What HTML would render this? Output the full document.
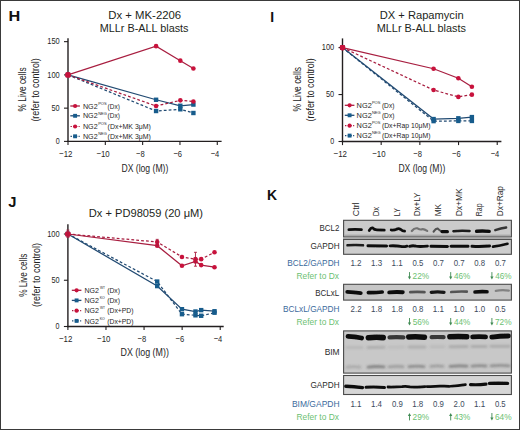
<!DOCTYPE html><html><head><meta charset="utf-8"><style>html,body{margin:0;padding:0;background:#fff}svg{display:block}text{font-family:"Liberation Sans",sans-serif}</style></head><body>
<svg width="520" height="430" viewBox="0 0 520 430">
<rect x="0" y="0" width="520" height="430" fill="#fff"/>
<text x="8.54" y="20.90" font-size="15" fill="#111" font-weight="bold" textLength="11.75" lengthAdjust="spacingAndGlyphs">H</text>
<text x="270.30" y="21.80" font-size="15.4" fill="#111" font-weight="bold" textLength="3.83" lengthAdjust="spacingAndGlyphs">I</text>
<text x="8.18" y="206.60" font-size="15" fill="#111" font-weight="bold" textLength="8.20" lengthAdjust="spacingAndGlyphs">J</text>
<text x="266.99" y="200.40" font-size="15" fill="#111" font-weight="bold" textLength="10.08" lengthAdjust="spacingAndGlyphs">K</text>
<text x="108.29" y="18.50" font-size="11.2" fill="#231f20" textLength="72.86" lengthAdjust="spacingAndGlyphs">Dx + MK-2206</text>
<text x="99.73" y="31.60" font-size="11.2" fill="#231f20" textLength="88.83" lengthAdjust="spacingAndGlyphs">MLLr B-ALL blasts</text>
<text x="379.71" y="18.50" font-size="11.2" fill="#231f20" textLength="83.93" lengthAdjust="spacingAndGlyphs">DX + Rapamycin</text>
<text x="376.73" y="31.60" font-size="11.2" fill="#231f20" textLength="89.14" lengthAdjust="spacingAndGlyphs">MLLr B-ALL blasts</text>
<text x="88.81" y="217.10" font-size="11.2" fill="#231f20" textLength="114.21" lengthAdjust="spacingAndGlyphs">Dx + PD98059 (20 μM)</text>
<line x1="68.00" y1="38.20" x2="68.00" y2="142.10" stroke="#231f20" stroke-width="1.4"/>
<line x1="67.30" y1="141.40" x2="221.60" y2="141.40" stroke="#231f20" stroke-width="1.4"/>
<line x1="64.00" y1="41.65" x2="68.00" y2="41.65" stroke="#231f20" stroke-width="1.1"/>
<text x="47.24" y="44.45" font-size="9.4" fill="#262626" textLength="12.45" lengthAdjust="spacingAndGlyphs">150</text>
<line x1="64.00" y1="74.90" x2="68.00" y2="74.90" stroke="#231f20" stroke-width="1.1"/>
<text x="47.24" y="77.70" font-size="9.4" fill="#262626" textLength="12.45" lengthAdjust="spacingAndGlyphs">100</text>
<line x1="64.00" y1="108.15" x2="68.00" y2="108.15" stroke="#231f20" stroke-width="1.1"/>
<text x="51.51" y="110.95" font-size="9.4" fill="#262626" textLength="8.17" lengthAdjust="spacingAndGlyphs">50</text>
<line x1="64.00" y1="141.40" x2="68.00" y2="141.40" stroke="#231f20" stroke-width="1.1"/>
<text x="55.72" y="144.20" font-size="9.4" fill="#262626" textLength="3.94" lengthAdjust="spacingAndGlyphs">0</text>
<line x1="68.00" y1="141.40" x2="68.00" y2="145.00" stroke="#231f20" stroke-width="1.1"/>
<text x="59.11" y="156.60" font-size="9.4" fill="#262626" textLength="13.40" lengthAdjust="spacingAndGlyphs">−12</text>
<line x1="105.32" y1="141.40" x2="105.32" y2="145.00" stroke="#231f20" stroke-width="1.1"/>
<text x="96.43" y="156.60" font-size="9.4" fill="#262626" textLength="13.28" lengthAdjust="spacingAndGlyphs">−10</text>
<line x1="142.64" y1="141.40" x2="142.64" y2="145.00" stroke="#231f20" stroke-width="1.1"/>
<text x="136.06" y="156.60" font-size="9.4" fill="#262626" textLength="8.69" lengthAdjust="spacingAndGlyphs">−8</text>
<line x1="179.96" y1="141.40" x2="179.96" y2="145.00" stroke="#231f20" stroke-width="1.1"/>
<text x="173.38" y="156.60" font-size="9.4" fill="#262626" textLength="8.69" lengthAdjust="spacingAndGlyphs">−6</text>
<line x1="217.28" y1="141.40" x2="217.28" y2="145.00" stroke="#231f20" stroke-width="1.1"/>
<text x="210.70" y="156.60" font-size="9.4" fill="#262626" textLength="8.60" lengthAdjust="spacingAndGlyphs">−4</text>
<text x="121.41" y="171.50" font-size="10.4" fill="#262626" textLength="46.95" lengthAdjust="spacingAndGlyphs">DX (log (M))</text>
<g transform="translate(26.30,111.10) rotate(-90)">
<text x="-0.29" y="0.00" font-size="10.8" fill="#222" textLength="43.98" lengthAdjust="spacingAndGlyphs">% Live cells</text>
</g>
<g transform="translate(38.60,121.10) rotate(-90)">
<text x="-0.53" y="0.00" font-size="10.2" fill="#222" textLength="63.40" lengthAdjust="spacingAndGlyphs">(refer to control)</text>
</g>
<polyline points="68.00,74.90 156.08,111.01 180.33,109.28 193.40,113.00" fill="none" stroke="#214a72" stroke-width="1.25" stroke-dasharray="2.8,2.1"/>
<rect x="65.80" y="72.70" width="4.4" height="4.4" fill="#175c8c"/>
<rect x="153.88" y="108.81" width="4.4" height="4.4" fill="#175c8c"/>
<rect x="178.13" y="107.08" width="4.4" height="4.4" fill="#175c8c"/>
<rect x="191.20" y="110.80" width="4.4" height="4.4" fill="#175c8c"/>
<polyline points="68.00,74.90 156.08,99.77 180.33,105.76 193.40,104.56" fill="none" stroke="#214a72" stroke-width="1.25"/>
<rect x="65.80" y="72.70" width="4.4" height="4.4" fill="#175c8c"/>
<rect x="153.88" y="97.57" width="4.4" height="4.4" fill="#175c8c"/>
<rect x="178.13" y="103.56" width="4.4" height="4.4" fill="#175c8c"/>
<rect x="191.20" y="102.36" width="4.4" height="4.4" fill="#175c8c"/>
<polyline points="68.00,74.90 156.08,106.02 180.33,100.37 193.40,101.50" fill="none" stroke="#a81e40" stroke-width="1.25" stroke-dasharray="2.8,2.1"/>
<rect x="65.40" y="72.30" width="5.2" height="5.2" rx="1.6" fill="#c8123c"/>
<circle cx="156.08" cy="106.02" r="2.3" fill="#c8123c"/>
<circle cx="180.33" cy="100.37" r="2.3" fill="#c8123c"/>
<circle cx="193.40" cy="101.50" r="2.3" fill="#c8123c"/>
<polyline points="68.00,74.90 156.08,46.17 180.33,60.67 193.40,68.52" fill="none" stroke="#a81e40" stroke-width="1.25"/>
<rect x="65.40" y="72.30" width="5.2" height="5.2" rx="1.6" fill="#c8123c"/>
<circle cx="156.08" cy="46.17" r="2.3" fill="#c8123c"/>
<circle cx="180.33" cy="60.67" r="2.3" fill="#c8123c"/>
<circle cx="193.40" cy="68.52" r="2.3" fill="#c8123c"/>
<line x1="70.30" y1="106.00" x2="79.90" y2="106.00" stroke="#a81e40" stroke-width="1.3"/>
<circle cx="75.10" cy="106.00" r="2.1" fill="#c8123c"/>
<text x="82.93" y="108.60" font-size="7.6" fill="#262626" textLength="14.74" lengthAdjust="spacingAndGlyphs">NG2</text>
<text x="98.18" y="104.70" font-size="4.2" fill="#262626" textLength="8.51" lengthAdjust="spacingAndGlyphs">POS</text>
<text x="107.61" y="108.60" font-size="7.6" fill="#262626" textLength="12.20" lengthAdjust="spacingAndGlyphs">(Dx)</text>
<line x1="70.30" y1="115.80" x2="79.90" y2="115.80" stroke="#214a72" stroke-width="1.3"/>
<rect x="73.15" y="113.85" width="3.9" height="3.9" fill="#175c8c"/>
<text x="82.93" y="118.40" font-size="7.6" fill="#262626" textLength="14.74" lengthAdjust="spacingAndGlyphs">NG2</text>
<text x="98.18" y="114.50" font-size="4.2" fill="#262626" textLength="8.60" lengthAdjust="spacingAndGlyphs">NEG</text>
<text x="107.61" y="118.40" font-size="7.6" fill="#262626" textLength="12.20" lengthAdjust="spacingAndGlyphs">(Dx)</text>
<line x1="70.5" y1="126.5" x2="79.69999999999999" y2="126.5" stroke="#a81e40" stroke-width="1.2" stroke-dasharray="1.4,1.3"/>
<circle cx="75.10" cy="126.50" r="2.1" fill="#c8123c"/>
<text x="82.93" y="129.10" font-size="7.6" fill="#262626" textLength="14.74" lengthAdjust="spacingAndGlyphs">NG2</text>
<text x="98.18" y="125.20" font-size="4.2" fill="#262626" textLength="8.51" lengthAdjust="spacingAndGlyphs">POS</text>
<text x="107.58" y="129.10" font-size="7.6" fill="#262626" textLength="43.34" lengthAdjust="spacingAndGlyphs">(Dx+MK 3μM)</text>
<line x1="70.5" y1="136.3" x2="79.69999999999999" y2="136.3" stroke="#214a72" stroke-width="1.2" stroke-dasharray="1.4,1.3"/>
<rect x="73.15" y="134.35" width="3.9" height="3.9" fill="#175c8c"/>
<text x="82.93" y="138.90" font-size="7.6" fill="#262626" textLength="14.74" lengthAdjust="spacingAndGlyphs">NG2</text>
<text x="98.18" y="135.00" font-size="4.2" fill="#262626" textLength="8.60" lengthAdjust="spacingAndGlyphs">NEG</text>
<text x="107.58" y="138.90" font-size="7.6" fill="#262626" textLength="43.34" lengthAdjust="spacingAndGlyphs">(Dx+MK 3μM)</text>
<line x1="342.50" y1="38.40" x2="342.50" y2="142.20" stroke="#231f20" stroke-width="1.4"/>
<line x1="341.80" y1="141.50" x2="501.40" y2="141.50" stroke="#231f20" stroke-width="1.4"/>
<line x1="338.50" y1="47.60" x2="342.50" y2="47.60" stroke="#231f20" stroke-width="1.1"/>
<text x="321.74" y="50.40" font-size="9.4" fill="#262626" textLength="12.45" lengthAdjust="spacingAndGlyphs">100</text>
<line x1="338.50" y1="94.55" x2="342.50" y2="94.55" stroke="#231f20" stroke-width="1.1"/>
<text x="326.01" y="97.35" font-size="9.4" fill="#262626" textLength="8.17" lengthAdjust="spacingAndGlyphs">50</text>
<line x1="338.50" y1="141.50" x2="342.50" y2="141.50" stroke="#231f20" stroke-width="1.1"/>
<text x="330.22" y="144.30" font-size="9.4" fill="#262626" textLength="3.94" lengthAdjust="spacingAndGlyphs">0</text>
<line x1="342.50" y1="141.50" x2="342.50" y2="145.10" stroke="#231f20" stroke-width="1.1"/>
<text x="333.61" y="156.70" font-size="9.4" fill="#262626" textLength="13.40" lengthAdjust="spacingAndGlyphs">−12</text>
<line x1="381.18" y1="141.50" x2="381.18" y2="145.10" stroke="#231f20" stroke-width="1.1"/>
<text x="372.29" y="156.70" font-size="9.4" fill="#262626" textLength="13.28" lengthAdjust="spacingAndGlyphs">−10</text>
<line x1="419.86" y1="141.50" x2="419.86" y2="145.10" stroke="#231f20" stroke-width="1.1"/>
<text x="413.28" y="156.70" font-size="9.4" fill="#262626" textLength="8.69" lengthAdjust="spacingAndGlyphs">−8</text>
<line x1="458.54" y1="141.50" x2="458.54" y2="145.10" stroke="#231f20" stroke-width="1.1"/>
<text x="451.96" y="156.70" font-size="9.4" fill="#262626" textLength="8.69" lengthAdjust="spacingAndGlyphs">−6</text>
<line x1="497.22" y1="141.50" x2="497.22" y2="145.10" stroke="#231f20" stroke-width="1.1"/>
<text x="490.64" y="156.70" font-size="9.4" fill="#262626" textLength="8.60" lengthAdjust="spacingAndGlyphs">−4</text>
<text x="398.41" y="171.50" font-size="10.4" fill="#262626" textLength="46.84" lengthAdjust="spacingAndGlyphs">DX (log (M))</text>
<g transform="translate(300.60,111.20) rotate(-90)">
<text x="-0.29" y="0.00" font-size="10.8" fill="#222" textLength="44.49" lengthAdjust="spacingAndGlyphs">% Live cells</text>
</g>
<g transform="translate(313.90,120.90) rotate(-90)">
<text x="-0.53" y="0.00" font-size="10.2" fill="#222" textLength="63.10" lengthAdjust="spacingAndGlyphs">(refer to control)</text>
</g>
<polyline points="342.50,47.60 433.59,121.12 458.35,120.94 471.88,120.94" fill="none" stroke="#214a72" stroke-width="1.25" stroke-dasharray="2.8,2.1"/>
<rect x="340.30" y="45.40" width="4.4" height="4.4" fill="#175c8c"/>
<rect x="431.39" y="118.92" width="4.4" height="4.4" fill="#175c8c"/>
<rect x="456.15" y="118.74" width="4.4" height="4.4" fill="#175c8c"/>
<rect x="469.68" y="118.74" width="4.4" height="4.4" fill="#175c8c"/>
<polyline points="342.50,47.60 433.59,119.06 458.35,118.31 471.88,117.09" fill="none" stroke="#214a72" stroke-width="1.25"/>
<rect x="340.30" y="45.40" width="4.4" height="4.4" fill="#175c8c"/>
<rect x="431.39" y="116.86" width="4.4" height="4.4" fill="#175c8c"/>
<rect x="456.15" y="116.11" width="4.4" height="4.4" fill="#175c8c"/>
<rect x="469.68" y="114.89" width="4.4" height="4.4" fill="#175c8c"/>
<polyline points="342.50,47.60 433.59,90.04 458.35,96.90 471.88,94.64" fill="none" stroke="#a81e40" stroke-width="1.25" stroke-dasharray="2.8,2.1"/>
<rect x="339.90" y="45.00" width="5.2" height="5.2" rx="1.6" fill="#c8123c"/>
<circle cx="433.59" cy="90.04" r="2.3" fill="#c8123c"/>
<circle cx="458.35" cy="96.90" r="2.3" fill="#c8123c"/>
<circle cx="471.88" cy="94.64" r="2.3" fill="#c8123c"/>
<polyline points="342.50,47.60 433.59,68.73 458.35,78.21 471.88,86.76" fill="none" stroke="#a81e40" stroke-width="1.25"/>
<rect x="339.90" y="45.00" width="5.2" height="5.2" rx="1.6" fill="#c8123c"/>
<circle cx="433.59" cy="68.73" r="2.3" fill="#c8123c"/>
<circle cx="458.35" cy="78.21" r="2.3" fill="#c8123c"/>
<circle cx="471.88" cy="86.76" r="2.3" fill="#c8123c"/>
<line x1="344.80" y1="105.30" x2="354.40" y2="105.30" stroke="#a81e40" stroke-width="1.3"/>
<circle cx="349.60" cy="105.30" r="2.1" fill="#c8123c"/>
<text x="356.61" y="107.90" font-size="7.6" fill="#262626" textLength="15.17" lengthAdjust="spacingAndGlyphs">NG2</text>
<text x="371.88" y="104.00" font-size="4.2" fill="#262626" textLength="8.51" lengthAdjust="spacingAndGlyphs">POS</text>
<text x="381.90" y="107.90" font-size="7.6" fill="#262626" textLength="12.52" lengthAdjust="spacingAndGlyphs">(Dx)</text>
<line x1="344.80" y1="115.30" x2="354.40" y2="115.30" stroke="#214a72" stroke-width="1.3"/>
<rect x="347.65" y="113.35" width="3.9" height="3.9" fill="#175c8c"/>
<text x="356.61" y="117.90" font-size="7.6" fill="#262626" textLength="15.17" lengthAdjust="spacingAndGlyphs">NG2</text>
<text x="371.88" y="114.00" font-size="4.2" fill="#262626" textLength="8.60" lengthAdjust="spacingAndGlyphs">NEG</text>
<text x="381.90" y="117.90" font-size="7.6" fill="#262626" textLength="12.52" lengthAdjust="spacingAndGlyphs">(Dx)</text>
<line x1="345.0" y1="125.7" x2="354.20000000000005" y2="125.7" stroke="#a81e40" stroke-width="1.2" stroke-dasharray="1.4,1.3"/>
<circle cx="349.60" cy="125.70" r="2.1" fill="#c8123c"/>
<text x="356.61" y="128.30" font-size="7.6" fill="#262626" textLength="15.17" lengthAdjust="spacingAndGlyphs">NG2</text>
<text x="371.88" y="124.40" font-size="4.2" fill="#262626" textLength="8.51" lengthAdjust="spacingAndGlyphs">POS</text>
<text x="381.89" y="128.30" font-size="7.6" fill="#262626" textLength="48.53" lengthAdjust="spacingAndGlyphs">(Dx+Rap 10μM)</text>
<line x1="345.0" y1="135.6" x2="354.20000000000005" y2="135.6" stroke="#214a72" stroke-width="1.2" stroke-dasharray="1.4,1.3"/>
<rect x="347.65" y="133.65" width="3.9" height="3.9" fill="#175c8c"/>
<text x="356.61" y="138.20" font-size="7.6" fill="#262626" textLength="15.17" lengthAdjust="spacingAndGlyphs">NG2</text>
<text x="371.88" y="134.30" font-size="4.2" fill="#262626" textLength="8.60" lengthAdjust="spacingAndGlyphs">NEG</text>
<text x="381.89" y="138.20" font-size="7.6" fill="#262626" textLength="48.53" lengthAdjust="spacingAndGlyphs">(Dx+Rap 10μM)</text>
<line x1="67.90" y1="224.30" x2="67.90" y2="327.20" stroke="#231f20" stroke-width="1.4"/>
<line x1="67.20" y1="326.50" x2="223.70" y2="326.50" stroke="#231f20" stroke-width="1.4"/>
<line x1="63.90" y1="234.00" x2="67.90" y2="234.00" stroke="#231f20" stroke-width="1.1"/>
<text x="47.14" y="236.80" font-size="9.4" fill="#262626" textLength="12.45" lengthAdjust="spacingAndGlyphs">100</text>
<line x1="63.90" y1="280.25" x2="67.90" y2="280.25" stroke="#231f20" stroke-width="1.1"/>
<text x="51.41" y="283.05" font-size="9.4" fill="#262626" textLength="8.17" lengthAdjust="spacingAndGlyphs">50</text>
<line x1="63.90" y1="326.50" x2="67.90" y2="326.50" stroke="#231f20" stroke-width="1.1"/>
<text x="55.62" y="329.30" font-size="9.4" fill="#262626" textLength="3.94" lengthAdjust="spacingAndGlyphs">0</text>
<line x1="67.90" y1="326.50" x2="67.90" y2="330.10" stroke="#231f20" stroke-width="1.1"/>
<text x="59.01" y="341.50" font-size="9.4" fill="#262626" textLength="13.40" lengthAdjust="spacingAndGlyphs">−12</text>
<line x1="105.98" y1="326.50" x2="105.98" y2="330.10" stroke="#231f20" stroke-width="1.1"/>
<text x="97.09" y="341.50" font-size="9.4" fill="#262626" textLength="13.28" lengthAdjust="spacingAndGlyphs">−10</text>
<line x1="144.06" y1="326.50" x2="144.06" y2="330.10" stroke="#231f20" stroke-width="1.1"/>
<text x="137.48" y="341.50" font-size="9.4" fill="#262626" textLength="8.69" lengthAdjust="spacingAndGlyphs">−8</text>
<line x1="182.14" y1="326.50" x2="182.14" y2="330.10" stroke="#231f20" stroke-width="1.1"/>
<text x="175.56" y="341.50" font-size="9.4" fill="#262626" textLength="8.69" lengthAdjust="spacingAndGlyphs">−6</text>
<line x1="220.22" y1="326.50" x2="220.22" y2="330.10" stroke="#231f20" stroke-width="1.1"/>
<text x="213.64" y="341.50" font-size="9.4" fill="#262626" textLength="8.60" lengthAdjust="spacingAndGlyphs">−4</text>
<text x="120.59" y="355.60" font-size="10.4" fill="#262626" textLength="48.28" lengthAdjust="spacingAndGlyphs">DX (log (M))</text>
<g transform="translate(27.00,296.50) rotate(-90)">
<text x="-0.29" y="0.00" font-size="10.8" fill="#222" textLength="43.17" lengthAdjust="spacingAndGlyphs">% Live cells</text>
</g>
<g transform="translate(39.50,306.50) rotate(-90)">
<text x="-0.54" y="0.00" font-size="10.2" fill="#222" textLength="63.91" lengthAdjust="spacingAndGlyphs">(refer to control)</text>
</g>
<polyline points="67.90,234.00 157.20,281.55 181.95,314.20 195.47,315.31 201.18,315.77 214.51,312.72" fill="none" stroke="#214a72" stroke-width="1.25" stroke-dasharray="2.8,2.1"/>
<rect x="65.70" y="231.80" width="4.4" height="4.4" fill="#175c8c"/>
<rect x="155.00" y="279.35" width="4.4" height="4.4" fill="#175c8c"/>
<rect x="179.75" y="312.00" width="4.4" height="4.4" fill="#175c8c"/>
<rect x="193.27" y="313.11" width="4.4" height="4.4" fill="#175c8c"/>
<rect x="198.98" y="313.57" width="4.4" height="4.4" fill="#175c8c"/>
<rect x="212.31" y="310.52" width="4.4" height="4.4" fill="#175c8c"/>
<polyline points="67.90,234.00 157.20,286.08 181.95,309.20 195.47,311.51 201.18,310.13 214.51,311.24" fill="none" stroke="#214a72" stroke-width="1.25"/>
<rect x="65.70" y="231.80" width="4.4" height="4.4" fill="#175c8c"/>
<rect x="155.00" y="283.88" width="4.4" height="4.4" fill="#175c8c"/>
<rect x="179.75" y="307.00" width="4.4" height="4.4" fill="#175c8c"/>
<rect x="193.27" y="309.31" width="4.4" height="4.4" fill="#175c8c"/>
<rect x="198.98" y="307.93" width="4.4" height="4.4" fill="#175c8c"/>
<rect x="212.31" y="309.04" width="4.4" height="4.4" fill="#175c8c"/>
<polyline points="67.90,234.00 157.20,241.95 181.95,256.94 195.47,259.16 201.18,259.16 214.51,252.31" fill="none" stroke="#a81e40" stroke-width="1.25" stroke-dasharray="2.8,2.1"/>
<rect x="65.30" y="231.40" width="5.2" height="5.2" rx="1.6" fill="#c8123c"/>
<circle cx="157.20" cy="241.95" r="2.3" fill="#c8123c"/>
<circle cx="181.95" cy="256.94" r="2.3" fill="#c8123c"/>
<circle cx="195.47" cy="259.16" r="2.3" fill="#c8123c"/>
<circle cx="201.18" cy="259.16" r="2.3" fill="#c8123c"/>
<circle cx="214.51" cy="252.31" r="2.3" fill="#c8123c"/>
<polyline points="67.90,234.00 157.20,245.65 181.95,265.82 195.47,261.47 201.18,265.08 214.51,267.21" fill="none" stroke="#a81e40" stroke-width="1.25"/>
<rect x="65.30" y="231.40" width="5.2" height="5.2" rx="1.6" fill="#c8123c"/>
<circle cx="157.20" cy="245.65" r="2.3" fill="#c8123c"/>
<circle cx="181.95" cy="265.82" r="2.3" fill="#c8123c"/>
<circle cx="195.47" cy="261.47" r="2.3" fill="#c8123c"/>
<circle cx="201.18" cy="265.08" r="2.3" fill="#c8123c"/>
<circle cx="214.51" cy="267.21" r="2.3" fill="#c8123c"/>
<line x1="67.90" y1="230.12" x2="67.90" y2="237.33" stroke="#a81e40" stroke-width="0.9"/>
<line x1="66.40" y1="230.12" x2="69.40" y2="230.12" stroke="#a81e40" stroke-width="0.9"/>
<line x1="66.40" y1="237.33" x2="69.40" y2="237.33" stroke="#a81e40" stroke-width="0.9"/>
<line x1="157.20" y1="239.37" x2="157.20" y2="246.02" stroke="#a81e40" stroke-width="0.9"/>
<line x1="155.70" y1="239.37" x2="158.70" y2="239.37" stroke="#a81e40" stroke-width="0.9"/>
<line x1="155.70" y1="246.02" x2="158.70" y2="246.02" stroke="#a81e40" stroke-width="0.9"/>
<line x1="195.47" y1="252.31" x2="195.47" y2="266.19" stroke="#a81e40" stroke-width="0.9"/>
<line x1="193.97" y1="252.31" x2="196.97" y2="252.31" stroke="#a81e40" stroke-width="0.9"/>
<line x1="193.97" y1="266.19" x2="196.97" y2="266.19" stroke="#a81e40" stroke-width="0.9"/>
<line x1="71.80" y1="290.30" x2="81.40" y2="290.30" stroke="#a81e40" stroke-width="1.3"/>
<circle cx="76.60" cy="290.30" r="2.1" fill="#c8123c"/>
<text x="84.43" y="292.90" font-size="7.6" fill="#262626" textLength="14.53" lengthAdjust="spacingAndGlyphs">NG2</text>
<text x="99.98" y="289.00" font-size="4.2" fill="#262626" textLength="5.08" lengthAdjust="spacingAndGlyphs">WT</text>
<text x="107.19" y="292.90" font-size="7.6" fill="#262626" textLength="12.84" lengthAdjust="spacingAndGlyphs">(Dx)</text>
<line x1="71.80" y1="300.40" x2="81.40" y2="300.40" stroke="#214a72" stroke-width="1.3"/>
<rect x="74.65" y="298.45" width="3.9" height="3.9" fill="#175c8c"/>
<text x="84.43" y="303.00" font-size="7.6" fill="#262626" textLength="14.53" lengthAdjust="spacingAndGlyphs">NG2</text>
<text x="99.72" y="299.10" font-size="4.2" fill="#262626" textLength="5.05" lengthAdjust="spacingAndGlyphs">KO</text>
<text x="107.19" y="303.00" font-size="7.6" fill="#262626" textLength="12.84" lengthAdjust="spacingAndGlyphs">(Dx)</text>
<line x1="72.0" y1="310.7" x2="81.19999999999999" y2="310.7" stroke="#a81e40" stroke-width="1.2" stroke-dasharray="1.4,1.3"/>
<circle cx="76.60" cy="310.70" r="2.1" fill="#c8123c"/>
<text x="84.43" y="313.30" font-size="7.6" fill="#262626" textLength="14.53" lengthAdjust="spacingAndGlyphs">NG2</text>
<text x="99.98" y="309.40" font-size="4.2" fill="#262626" textLength="5.08" lengthAdjust="spacingAndGlyphs">WT</text>
<text x="107.19" y="313.30" font-size="7.6" fill="#262626" textLength="26.33" lengthAdjust="spacingAndGlyphs">(Dx+PD)</text>
<line x1="72.0" y1="320.9" x2="81.19999999999999" y2="320.9" stroke="#214a72" stroke-width="1.2" stroke-dasharray="1.4,1.3"/>
<rect x="74.65" y="318.95" width="3.9" height="3.9" fill="#175c8c"/>
<text x="84.43" y="323.50" font-size="7.6" fill="#262626" textLength="14.53" lengthAdjust="spacingAndGlyphs">NG2</text>
<text x="99.72" y="319.60" font-size="4.2" fill="#262626" textLength="5.05" lengthAdjust="spacingAndGlyphs">KO</text>
<text x="107.19" y="323.50" font-size="7.6" fill="#262626" textLength="26.33" lengthAdjust="spacingAndGlyphs">(Dx+PD)</text>
<defs><filter id="bl" filterUnits="userSpaceOnUse" x="330" y="200" width="190" height="220"><feGaussianBlur stdDeviation="0.65"/></filter><filter id="bl2" filterUnits="userSpaceOnUse" x="330" y="200" width="190" height="220"><feGaussianBlur stdDeviation="0.9"/></filter></defs>
<g transform="translate(358.50,215.70) rotate(-90)">
<text x="-0.44" y="0.00" font-size="8.7" fill="#2b2b2b" textLength="13.72" lengthAdjust="spacingAndGlyphs">Ctrl</text>
</g>
<g transform="translate(379.10,215.70) rotate(-90)">
<text x="-0.63" y="0.00" font-size="8.7" fill="#2b2b2b" textLength="9.63" lengthAdjust="spacingAndGlyphs">Dx</text>
</g>
<g transform="translate(399.70,215.70) rotate(-90)">
<text x="-0.57" y="0.00" font-size="8.7" fill="#2b2b2b" textLength="8.14" lengthAdjust="spacingAndGlyphs">LY</text>
</g>
<g transform="translate(420.30,215.70) rotate(-90)">
<text x="-0.64" y="0.00" font-size="8.7" fill="#2b2b2b" textLength="23.81" lengthAdjust="spacingAndGlyphs">Dx+LY</text>
</g>
<g transform="translate(440.90,215.70) rotate(-90)">
<text x="-0.66" y="0.00" font-size="8.7" fill="#2b2b2b" textLength="12.34" lengthAdjust="spacingAndGlyphs">MK</text>
</g>
<g transform="translate(461.50,215.70) rotate(-90)">
<text x="-0.68" y="0.00" font-size="8.7" fill="#2b2b2b" textLength="27.97" lengthAdjust="spacingAndGlyphs">Dx+MK</text>
</g>
<g transform="translate(482.10,215.70) rotate(-90)">
<text x="-0.56" y="0.00" font-size="8.7" fill="#2b2b2b" textLength="12.84" lengthAdjust="spacingAndGlyphs">Rap</text>
</g>
<g transform="translate(502.70,215.70) rotate(-90)">
<text x="-0.67" y="0.00" font-size="8.7" fill="#2b2b2b" textLength="30.30" lengthAdjust="spacingAndGlyphs">Dx+Rap</text>
</g>
<rect x="343" y="236" width="169" height="4" fill="#bdbdbd"/>
<rect x="343.6" y="220.30" width="167.8" height="16.40" fill="#cbcbcb" stroke="#4a4a4a" stroke-width="1.1"/>
<rect x="344.2" y="234.6" width="166.6" height="1.8" fill="#a9a9a9"/>
<rect x="343.6" y="239.40" width="167.8" height="14.90" fill="#cdcdcd" stroke="#4a4a4a" stroke-width="1.1"/>
<rect x="343.6" y="284.30" width="167.8" height="15.80" fill="#c6c6c6" stroke="#4a4a4a" stroke-width="1.1"/>
<rect x="343.6" y="330.90" width="167.8" height="42.20" fill="#c8c8c8" stroke="#4a4a4a" stroke-width="1.1"/>
<rect x="343.6" y="375.50" width="167.8" height="19.00" fill="#d6d6d6" stroke="#4a4a4a" stroke-width="1.1"/>
<text x="319.57" y="231.30" font-size="8.6" fill="#2b2b2b" textLength="19.74" lengthAdjust="spacingAndGlyphs">BCL2</text>
<text x="310.39" y="249.10" font-size="8.6" fill="#2b2b2b" textLength="29.18" lengthAdjust="spacingAndGlyphs">GAPDH</text>
<text x="287.24" y="266.00" font-size="8.6" fill="#3b6a9c" textLength="52.33" lengthAdjust="spacingAndGlyphs">BCL2/GAPDH</text>
<text x="296.43" y="278.90" font-size="8.6" fill="#6cbf72" textLength="42.58" lengthAdjust="spacingAndGlyphs">Refer to Dx</text>
<text x="315.26" y="295.60" font-size="8.6" fill="#2b2b2b" textLength="23.89" lengthAdjust="spacingAndGlyphs">BCLxL</text>
<text x="283.04" y="312.20" font-size="8.6" fill="#3b6a9c" textLength="56.53" lengthAdjust="spacingAndGlyphs">BCLxL/GAPDH</text>
<text x="296.43" y="324.90" font-size="8.6" fill="#6cbf72" textLength="42.58" lengthAdjust="spacingAndGlyphs">Refer to Dx</text>
<text x="324.63" y="355.00" font-size="8.6" fill="#2b2b2b" textLength="14.97" lengthAdjust="spacingAndGlyphs">BIM</text>
<text x="310.39" y="387.80" font-size="8.6" fill="#2b2b2b" textLength="29.18" lengthAdjust="spacingAndGlyphs">GAPDH</text>
<text x="291.92" y="406.90" font-size="8.6" fill="#3b6a9c" textLength="47.68" lengthAdjust="spacingAndGlyphs">BIM/GAPDH</text>
<text x="296.43" y="420.20" font-size="8.6" fill="#6cbf72" textLength="42.58" lengthAdjust="spacingAndGlyphs">Refer to Dx</text>
<text x="350.40" y="266.10" font-size="8.6" fill="#3d4b5c" textLength="11.21" lengthAdjust="spacingAndGlyphs">1.2</text>
<text x="371.00" y="266.10" font-size="8.6" fill="#3d4b5c" textLength="11.12" lengthAdjust="spacingAndGlyphs">1.3</text>
<text x="391.60" y="266.10" font-size="8.6" fill="#3d4b5c" textLength="11.17" lengthAdjust="spacingAndGlyphs">1.1</text>
<text x="412.49" y="266.10" font-size="8.6" fill="#3d4b5c" textLength="10.82" lengthAdjust="spacingAndGlyphs">0.5</text>
<text x="433.09" y="266.10" font-size="8.6" fill="#3d4b5c" textLength="10.91" lengthAdjust="spacingAndGlyphs">0.7</text>
<text x="453.69" y="266.10" font-size="8.6" fill="#3d4b5c" textLength="10.91" lengthAdjust="spacingAndGlyphs">0.7</text>
<text x="474.29" y="266.10" font-size="8.6" fill="#3d4b5c" textLength="10.82" lengthAdjust="spacingAndGlyphs">0.8</text>
<text x="494.89" y="266.10" font-size="8.6" fill="#3d4b5c" textLength="10.91" lengthAdjust="spacingAndGlyphs">0.7</text>
<text x="350.60" y="311.90" font-size="8.6" fill="#3d4b5c" textLength="10.99" lengthAdjust="spacingAndGlyphs">2.2</text>
<text x="371.00" y="311.90" font-size="8.6" fill="#3d4b5c" textLength="11.12" lengthAdjust="spacingAndGlyphs">1.8</text>
<text x="391.60" y="311.90" font-size="8.6" fill="#3d4b5c" textLength="11.12" lengthAdjust="spacingAndGlyphs">1.8</text>
<text x="412.49" y="311.90" font-size="8.6" fill="#3d4b5c" textLength="10.82" lengthAdjust="spacingAndGlyphs">0.8</text>
<text x="432.80" y="311.90" font-size="8.6" fill="#3d4b5c" textLength="11.17" lengthAdjust="spacingAndGlyphs">1.1</text>
<text x="453.40" y="311.90" font-size="8.6" fill="#3d4b5c" textLength="11.08" lengthAdjust="spacingAndGlyphs">1.0</text>
<text x="474.00" y="311.90" font-size="8.6" fill="#3d4b5c" textLength="11.08" lengthAdjust="spacingAndGlyphs">1.0</text>
<text x="494.89" y="311.90" font-size="8.6" fill="#3d4b5c" textLength="10.82" lengthAdjust="spacingAndGlyphs">0.5</text>
<text x="350.40" y="406.80" font-size="8.6" fill="#3d4b5c" textLength="11.17" lengthAdjust="spacingAndGlyphs">1.1</text>
<text x="371.00" y="406.80" font-size="8.6" fill="#3d4b5c" textLength="11.03" lengthAdjust="spacingAndGlyphs">1.4</text>
<text x="391.89" y="406.80" font-size="8.6" fill="#3d4b5c" textLength="10.87" lengthAdjust="spacingAndGlyphs">0.9</text>
<text x="412.20" y="406.80" font-size="8.6" fill="#3d4b5c" textLength="11.12" lengthAdjust="spacingAndGlyphs">1.8</text>
<text x="433.09" y="406.80" font-size="8.6" fill="#3d4b5c" textLength="10.87" lengthAdjust="spacingAndGlyphs">0.9</text>
<text x="453.61" y="406.80" font-size="8.6" fill="#3d4b5c" textLength="10.87" lengthAdjust="spacingAndGlyphs">2.0</text>
<text x="474.00" y="406.80" font-size="8.6" fill="#3d4b5c" textLength="11.17" lengthAdjust="spacingAndGlyphs">1.1</text>
<text x="494.89" y="406.80" font-size="8.6" fill="#3d4b5c" textLength="10.82" lengthAdjust="spacingAndGlyphs">0.5</text>
<path d="M409.50,272.10 V277.30" stroke="#3e8a52" stroke-width="0.9"/>
<path d="M407.90,276.50 L409.50,279.50 L411.10,276.50 Z" fill="#3e8a52"/>
<text x="412.58" y="278.90" font-size="8.6" fill="#6cbf72" textLength="16.62" lengthAdjust="spacingAndGlyphs">22%</text>
<path d="M450.70,272.10 V277.30" stroke="#3e8a52" stroke-width="0.9"/>
<path d="M449.10,276.50 L450.70,279.50 L452.30,276.50 Z" fill="#3e8a52"/>
<text x="454.04" y="278.90" font-size="8.6" fill="#6cbf72" textLength="16.36" lengthAdjust="spacingAndGlyphs">46%</text>
<path d="M491.90,272.10 V277.30" stroke="#3e8a52" stroke-width="0.9"/>
<path d="M490.30,276.50 L491.90,279.50 L493.50,276.50 Z" fill="#3e8a52"/>
<text x="495.24" y="278.90" font-size="8.6" fill="#6cbf72" textLength="16.36" lengthAdjust="spacingAndGlyphs">46%</text>
<path d="M409.50,318.00 V323.20" stroke="#3e8a52" stroke-width="0.9"/>
<path d="M407.90,322.40 L409.50,325.40 L411.10,322.40 Z" fill="#3e8a52"/>
<text x="412.67" y="324.80" font-size="8.6" fill="#6cbf72" textLength="16.53" lengthAdjust="spacingAndGlyphs">56%</text>
<path d="M450.70,318.00 V323.20" stroke="#3e8a52" stroke-width="0.9"/>
<path d="M449.10,322.40 L450.70,325.40 L452.30,322.40 Z" fill="#3e8a52"/>
<text x="454.04" y="324.80" font-size="8.6" fill="#6cbf72" textLength="16.36" lengthAdjust="spacingAndGlyphs">44%</text>
<path d="M491.90,318.00 V323.20" stroke="#3e8a52" stroke-width="0.9"/>
<path d="M490.30,322.40 L491.90,325.40 L493.50,322.40 Z" fill="#3e8a52"/>
<text x="494.98" y="324.80" font-size="8.6" fill="#6cbf72" textLength="16.62" lengthAdjust="spacingAndGlyphs">72%</text>
<path d="M409.50,420.40 V415.20" stroke="#3e8a52" stroke-width="0.9"/>
<path d="M407.90,416.00 L409.50,413.00 L411.10,416.00 Z" fill="#3e8a52"/>
<text x="412.58" y="419.80" font-size="8.6" fill="#6cbf72" textLength="16.62" lengthAdjust="spacingAndGlyphs">29%</text>
<path d="M450.70,420.40 V415.20" stroke="#3e8a52" stroke-width="0.9"/>
<path d="M449.10,416.00 L450.70,413.00 L452.30,416.00 Z" fill="#3e8a52"/>
<text x="454.04" y="419.80" font-size="8.6" fill="#6cbf72" textLength="16.36" lengthAdjust="spacingAndGlyphs">43%</text>
<path d="M491.90,413.00 V418.20" stroke="#3e8a52" stroke-width="0.9"/>
<path d="M490.30,417.40 L491.90,420.40 L493.50,417.40 Z" fill="#3e8a52"/>
<text x="494.98" y="419.80" font-size="8.6" fill="#6cbf72" textLength="16.62" lengthAdjust="spacingAndGlyphs">64%</text>
<path d="M348.8,229.7 Q355,229.2 361.5,229.7" stroke="#111" stroke-opacity="1.0" stroke-width="2.7" fill="none" stroke-linecap="round" stroke-linejoin="round" filter="url(#bl)"/>
<path d="M369.2,230.5 Q371,227.4 372.6,227.9 Q374.2,229.9 377,229.9 L384.3,230.1" stroke="#111" stroke-opacity="1.0" stroke-width="2.7" fill="none" stroke-linecap="round" stroke-linejoin="round" filter="url(#bl)"/>
<path d="M391.2,230.0 Q394,230.6 396.5,229.2 Q398.6,227.9 400.5,229.3 Q402.5,231.2 404.6,231.2" stroke="#111" stroke-opacity="1.0" stroke-width="2.8" fill="none" stroke-linecap="round" stroke-linejoin="round" filter="url(#bl)"/>
<path d="M411.8,231.0 Q414.5,227.6 417.5,228.4 Q420,229.8 421.5,229.4 Q423.5,228.5 427.2,230.9" stroke="#3a3a3a" stroke-opacity="0.62" stroke-width="2.2" fill="none" stroke-linecap="round" stroke-linejoin="round" filter="url(#bl)"/>
<path d="M433.6,231.6 Q436,228.2 437.8,228.6 Q439.5,230.6 441.5,231.2" stroke="#333" stroke-opacity="0.8" stroke-width="2.1" fill="none" stroke-linecap="round" stroke-linejoin="round" filter="url(#bl)"/>
<path d="M442,231.6 L447.4,231.7" stroke="#111" stroke-opacity="1.0" stroke-width="3.2" fill="none" stroke-linecap="round" stroke-linejoin="round" filter="url(#bl)"/>
<path d="M453.4,231.2 Q461,230.2 469.6,231.0" stroke="#1a1a1a" stroke-opacity="1.0" stroke-width="2.5" fill="none" stroke-linecap="round" stroke-linejoin="round" filter="url(#bl)"/>
<path d="M476.6,231.3 Q483,230.8 489.2,231.4" stroke="#111" stroke-opacity="1.0" stroke-width="3.4" fill="none" stroke-linecap="round" stroke-linejoin="round" filter="url(#bl)"/>
<path d="M495.2,230.2 Q501,228.3 506.2,227.5" stroke="#222" stroke-opacity="0.9" stroke-width="2.3" fill="none" stroke-linecap="round" stroke-linejoin="round" filter="url(#bl)"/>
<path d="M347.5,245.3 Q355,244.8 363,245.3" stroke="#1a1a1a" stroke-opacity="1.0" stroke-width="2.5" fill="none" stroke-linecap="round" stroke-linejoin="round" filter="url(#bl)"/>
<path d="M368,245.8 L386.6,245.9" stroke="#111" stroke-opacity="1.0" stroke-width="3.0" fill="none" stroke-linecap="round" stroke-linejoin="round" filter="url(#bl)"/>
<path d="M390,245.8 Q397,245.6 400.5,246.3 Q403.5,247.2 407,246.1" stroke="#111" stroke-opacity="1.0" stroke-width="2.8" fill="none" stroke-linecap="round" stroke-linejoin="round" filter="url(#bl)"/>
<path d="M409.5,246.3 Q413,245.2 416,246.2 Q420,246.8 427.5,246.1" stroke="#111" stroke-opacity="1.0" stroke-width="2.8" fill="none" stroke-linecap="round" stroke-linejoin="round" filter="url(#bl)"/>
<path d="M431,246.3 L447.5,246.4" stroke="#111" stroke-opacity="1.0" stroke-width="3.0" fill="none" stroke-linecap="round" stroke-linejoin="round" filter="url(#bl)"/>
<path d="M451,246.3 L468,246.2" stroke="#111" stroke-opacity="1.0" stroke-width="3.0" fill="none" stroke-linecap="round" stroke-linejoin="round" filter="url(#bl)"/>
<path d="M472,246.3 Q481,246.8 489.5,246.0" stroke="#111" stroke-opacity="1.0" stroke-width="3.1" fill="none" stroke-linecap="round" stroke-linejoin="round" filter="url(#bl)"/>
<path d="M493,246.6 Q500,246 507.5,243.8" stroke="#111" stroke-opacity="1.0" stroke-width="2.7" fill="none" stroke-linecap="round" stroke-linejoin="round" filter="url(#bl)"/>
<path d="M347.2,291.9 Q354,292.2 360.8,293.1" stroke="#111" stroke-opacity="1.0" stroke-width="3.8" fill="none" stroke-linecap="round" stroke-linejoin="round" filter="url(#bl)"/>
<path d="M368.4,292.6 Q375,292.8 382.2,292.0" stroke="#111" stroke-opacity="1.0" stroke-width="3.7" fill="none" stroke-linecap="round" stroke-linejoin="round" filter="url(#bl)"/>
<path d="M389.2,292.4 Q396,291.6 402.8,292.2" stroke="#111" stroke-opacity="1.0" stroke-width="3.9" fill="none" stroke-linecap="round" stroke-linejoin="round" filter="url(#bl)"/>
<path d="M410.3,292.2 Q417,291.6 424.4,292.2" stroke="#3a3a3a" stroke-opacity="0.8" stroke-width="2.8" fill="none" stroke-linecap="round" stroke-linejoin="round" filter="url(#bl)"/>
<path d="M431.3,292.3 Q437.5,291.4 444.0,292.3" stroke="#111" stroke-opacity="0.95" stroke-width="3.3" fill="none" stroke-linecap="round" stroke-linejoin="round" filter="url(#bl)"/>
<path d="M451.2,292.0 Q459,291.2 466.8,291.6" stroke="#3a3a3a" stroke-opacity="0.8" stroke-width="2.6" fill="none" stroke-linecap="round" stroke-linejoin="round" filter="url(#bl)"/>
<path d="M475.0,292.0 Q481,291.4 487.0,291.8" stroke="#111" stroke-opacity="1.0" stroke-width="3.6" fill="none" stroke-linecap="round" stroke-linejoin="round" filter="url(#bl)"/>
<path d="M495.8,290.8 Q502,289.7 508.8,290.6" stroke="#555" stroke-opacity="0.6" stroke-width="2.3" fill="none" stroke-linecap="round" stroke-linejoin="round" filter="url(#bl)"/>
<path d="M348.0,336.3 Q355,336.6 361.6,338.0" stroke="#111" stroke-opacity="1.0" stroke-width="4.8" fill="none" stroke-linecap="round" stroke-linejoin="round" filter="url(#bl)"/>
<path d="M368.4,337.8 Q375.5,336.8 383.2,337.6" stroke="#111" stroke-opacity="1.0" stroke-width="5.6" fill="none" stroke-linecap="round" stroke-linejoin="round" filter="url(#bl)"/>
<path d="M389.6,337.4 Q396.5,336.8 403.4,337.4" stroke="#2a2a2a" stroke-opacity="0.9" stroke-width="4.4" fill="none" stroke-linecap="round" stroke-linejoin="round" filter="url(#bl)"/>
<path d="M408.8,337.0 Q416.5,336.4 424.4,337.2" stroke="#111" stroke-opacity="1.0" stroke-width="5.6" fill="none" stroke-linecap="round" stroke-linejoin="round" filter="url(#bl)"/>
<path d="M431.6,337.2 Q437.5,336.8 443.6,337.2" stroke="#2a2a2a" stroke-opacity="0.9" stroke-width="4.2" fill="none" stroke-linecap="round" stroke-linejoin="round" filter="url(#bl)"/>
<path d="M449.8,336.8 Q458,336.2 466.8,336.8" stroke="#111" stroke-opacity="1.0" stroke-width="5.4" fill="none" stroke-linecap="round" stroke-linejoin="round" filter="url(#bl)"/>
<path d="M472.6,336.8 Q479,336.4 485.6,336.8" stroke="#111" stroke-opacity="1.0" stroke-width="4.8" fill="none" stroke-linecap="round" stroke-linejoin="round" filter="url(#bl)"/>
<path d="M491.8,337.2 Q500,336.0 508.4,336.0" stroke="#111" stroke-opacity="1.0" stroke-width="4.8" fill="none" stroke-linecap="round" stroke-linejoin="round" filter="url(#bl)"/>
<path d="M347,347.60 L362,347.47" stroke="#6a6a6a" stroke-opacity="0.16" stroke-width="3.0" fill="none" stroke-linecap="round" stroke-linejoin="round" filter="url(#bl2)"/>
<path d="M368,347.42 L384,347.28" stroke="#6a6a6a" stroke-opacity="0.28" stroke-width="3.0" fill="none" stroke-linecap="round" stroke-linejoin="round" filter="url(#bl2)"/>
<path d="M389,347.24 L404,347.11" stroke="#6a6a6a" stroke-opacity="0.12" stroke-width="3.0" fill="none" stroke-linecap="round" stroke-linejoin="round" filter="url(#bl2)"/>
<path d="M409,347.06 L425,346.93" stroke="#6a6a6a" stroke-opacity="0.28" stroke-width="3.0" fill="none" stroke-linecap="round" stroke-linejoin="round" filter="url(#bl2)"/>
<path d="M431,346.87 L444,346.76" stroke="#6a6a6a" stroke-opacity="0.14" stroke-width="3.0" fill="none" stroke-linecap="round" stroke-linejoin="round" filter="url(#bl2)"/>
<path d="M450,346.71 L467,346.56" stroke="#6a6a6a" stroke-opacity="0.3" stroke-width="3.0" fill="none" stroke-linecap="round" stroke-linejoin="round" filter="url(#bl2)"/>
<path d="M472,346.52 L486,346.40" stroke="#6a6a6a" stroke-opacity="0.3" stroke-width="3.0" fill="none" stroke-linecap="round" stroke-linejoin="round" filter="url(#bl2)"/>
<path d="M491,346.36 L509,346.20" stroke="#6a6a6a" stroke-opacity="0.3" stroke-width="3.0" fill="none" stroke-linecap="round" stroke-linejoin="round" filter="url(#bl2)"/>
<path d="M347,367.20 Q353.5,366.24 360,367.09" stroke="#444" stroke-opacity="0.22" stroke-width="2.8" fill="none" stroke-linecap="round" stroke-linejoin="round" filter="url(#bl2)"/>
<path d="M368,367.02 Q376.0,366.05 384,366.88" stroke="#444" stroke-opacity="0.5" stroke-width="2.8" fill="none" stroke-linecap="round" stroke-linejoin="round" filter="url(#bl2)"/>
<path d="M389,366.84 Q396.0,365.88 403,366.72" stroke="#444" stroke-opacity="0.32" stroke-width="2.8" fill="none" stroke-linecap="round" stroke-linejoin="round" filter="url(#bl2)"/>
<path d="M409,366.66 Q416.5,365.70 424,366.53" stroke="#444" stroke-opacity="0.45" stroke-width="2.8" fill="none" stroke-linecap="round" stroke-linejoin="round" filter="url(#bl2)"/>
<path d="M431,366.47 Q437.0,365.52 443,366.37" stroke="#444" stroke-opacity="0.32" stroke-width="2.8" fill="none" stroke-linecap="round" stroke-linejoin="round" filter="url(#bl2)"/>
<path d="M450,366.31 Q458.5,365.34 467,366.16" stroke="#444" stroke-opacity="0.5" stroke-width="2.8" fill="none" stroke-linecap="round" stroke-linejoin="round" filter="url(#bl2)"/>
<path d="M472,366.12 Q479.0,365.16 486,366.00" stroke="#444" stroke-opacity="0.45" stroke-width="2.8" fill="none" stroke-linecap="round" stroke-linejoin="round" filter="url(#bl2)"/>
<path d="M491,365.96 Q500.0,364.98 509,365.80" stroke="#444" stroke-opacity="0.42" stroke-width="2.8" fill="none" stroke-linecap="round" stroke-linejoin="round" filter="url(#bl2)"/>
<path d="M345.8,386.2 Q354,386.4 362.5,387.6" stroke="#111" stroke-opacity="1.0" stroke-width="3.4" fill="none" stroke-linecap="round" stroke-linejoin="round" filter="url(#bl)"/>
<path d="M366,387.3 Q375,386.6 384.5,387.6" stroke="#111" stroke-opacity="1.0" stroke-width="3.0" fill="none" stroke-linecap="round" stroke-linejoin="round" filter="url(#bl)"/>
<path d="M388,387.0 Q394,387.2 402,386.6 Q406,386.2 410,386.8 Q420,387.4 425,386.6" stroke="#111" stroke-opacity="1.0" stroke-width="2.8" fill="none" stroke-linecap="round" stroke-linejoin="round" filter="url(#bl)"/>
<path d="M427,386.6 Q434,386.8 440,386.2 Q445,385.9 449,386.3" stroke="#111" stroke-opacity="1.0" stroke-width="2.8" fill="none" stroke-linecap="round" stroke-linejoin="round" filter="url(#bl)"/>
<path d="M450.5,386.2 Q458,385.8 465.5,384.6" stroke="#111" stroke-opacity="1.0" stroke-width="2.6" fill="none" stroke-linecap="round" stroke-linejoin="round" filter="url(#bl)"/>
<path d="M470.5,384.6 Q478,385.0 486.0,384.2" stroke="#111" stroke-opacity="1.0" stroke-width="3.2" fill="none" stroke-linecap="round" stroke-linejoin="round" filter="url(#bl)"/>
<path d="M489.5,383.4 Q498,383.0 507.5,383.4" stroke="#111" stroke-opacity="1.0" stroke-width="3.4" fill="none" stroke-linecap="round" stroke-linejoin="round" filter="url(#bl)"/>
<rect x="0.5" y="0.5" width="519" height="429" fill="none" stroke="#3a3a3a" stroke-width="1"/>
</svg></body></html>
